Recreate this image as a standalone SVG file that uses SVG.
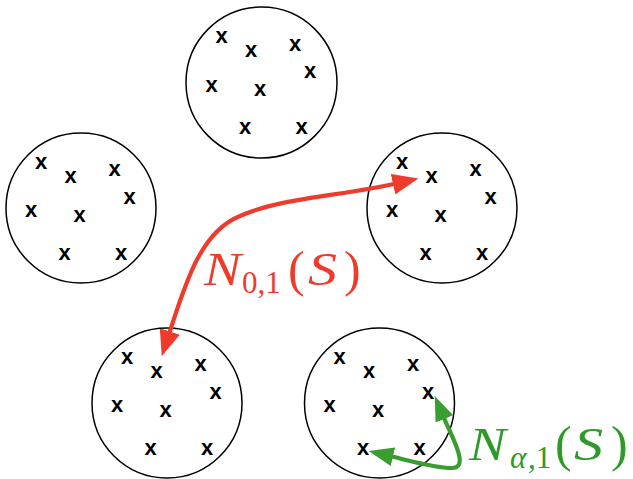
<svg xmlns="http://www.w3.org/2000/svg" width="633" height="479" viewBox="0 0 633 479">
<style>
.c{fill:none;stroke:#000;stroke-width:1.5}
.x{font-family:"Liberation Sans",Arial,sans-serif;font-weight:bold;font-size:22px;text-anchor:middle;fill:#000}
.red{fill:none;stroke:#ef3b2c;stroke-width:4.2}
.grn{fill:none;stroke:#3a9d30;stroke-width:4.2}
.lbl{font-family:"Liberation Serif","Times New Roman",serif;font-size:46px}
.it{font-style:italic}
.sub{font-size:31px}
.p{font-size:50px}
.s{font-size:47px}
</style>
<defs>
<marker id="hr" viewBox="0 -10.5 26 21" refX="1" refY="0" markerWidth="26" markerHeight="21" markerUnits="userSpaceOnUse" orient="auto-start-reverse">
<path d="M0,-10.5 L26,0 L0,10.5 z" fill="#ef3b2c"/>
</marker>
<marker id="hg" viewBox="0 -9.5 25 19" refX="1" refY="0" markerWidth="25" markerHeight="19" markerUnits="userSpaceOnUse" orient="auto-start-reverse">
<path d="M0,-9.5 L25,0 L0,9.5 z" fill="#3a9d30"/>
</marker>
</defs>
<rect width="633" height="479" fill="#fff"/>
<g id="cluster-top">
<circle class="c" cx="261.5" cy="82.5" r="75.5"/>
<text class="x" x="221.5" y="43">x</text><text class="x" x="251" y="57">x</text><text class="x" x="295" y="50.5">x</text><text class="x" x="310" y="78">x</text>
<text class="x" x="211.5" y="91.5">x</text><text class="x" x="260" y="96">x</text><text class="x" x="245" y="134">x</text><text class="x" x="301.5" y="134">x</text>
</g>
<g id="cluster-left">
<circle class="c" cx="81" cy="208" r="75"/>
<text class="x" x="41" y="168.5">x</text><text class="x" x="70.5" y="182.5">x</text><text class="x" x="114.5" y="176">x</text><text class="x" x="129.5" y="203.5">x</text>
<text class="x" x="31" y="217">x</text><text class="x" x="79.5" y="221.5">x</text><text class="x" x="64.5" y="259.5">x</text><text class="x" x="121" y="259.5">x</text>
</g>
<g id="cluster-right">
<circle class="c" cx="442" cy="208" r="75"/>
<text class="x" x="402" y="168.5">x</text><text class="x" x="431.5" y="182.5">x</text><text class="x" x="475.5" y="176">x</text><text class="x" x="490.5" y="203.5">x</text>
<text class="x" x="392" y="217">x</text><text class="x" x="440.5" y="221.5">x</text><text class="x" x="425.5" y="259.5">x</text><text class="x" x="482" y="259.5">x</text>
</g>
<g id="cluster-bottom-left">
<circle class="c" cx="167" cy="403" r="75"/>
<text class="x" x="127" y="363.5">x</text><text class="x" x="156.5" y="377.5">x</text><text class="x" x="200.5" y="371">x</text><text class="x" x="215.5" y="398.5">x</text>
<text class="x" x="117" y="412">x</text><text class="x" x="165.5" y="416.5">x</text><text class="x" x="150.5" y="454.5">x</text><text class="x" x="207" y="454.5">x</text>
</g>
<g id="cluster-bottom-right">
<circle class="c" cx="379.5" cy="403" r="75"/>
<text class="x" x="339.5" y="363.5">x</text><text class="x" x="369" y="377.5">x</text><text class="x" x="413" y="371">x</text><text class="x" x="428" y="398.5">x</text>
<text class="x" x="329.5" y="412">x</text><text class="x" x="378" y="416.5">x</text><text class="x" x="363" y="454.5">x</text><text class="x" x="419.5" y="454.5">x</text>
</g>
<g id="connectors">
<path class="red" d="M169.5,332.5 C185,285 200,232 240,216 C280,198 340,196 394,184" marker-start="url(#hr)" marker-end="url(#hr)"/>
<path class="grn" d="M444,418 C452,437 470,468 452,468 C435,468 415,462 392,456.5" marker-start="url(#hg)" marker-end="url(#hg)"/>
</g>
<g id="label-red" class="lbl" fill="#ef3b2c">
<text class="it" x="204" y="285" textLength="37" lengthAdjust="spacingAndGlyphs">N</text>
<text class="sub" x="242" y="293">0,1</text>
<text class="p" x="288" y="286">(</text>
<text class="it s" x="308" y="285" textLength="29" lengthAdjust="spacingAndGlyphs">S</text>
<text class="p" x="344" y="286">)</text>
</g>
<g id="label-green" class="lbl" fill="#2e9a2a">
<text class="it" x="469" y="460" textLength="37" lengthAdjust="spacingAndGlyphs">N</text>
<text class="sub it" x="510" y="468">α</text>
<text class="sub" x="528" y="468">,1</text>
<text class="p" x="555" y="461">(</text>
<text class="it s" x="574" y="460" textLength="29" lengthAdjust="spacingAndGlyphs">S</text>
<text class="p" x="611" y="461">)</text>
</g>
</svg>
